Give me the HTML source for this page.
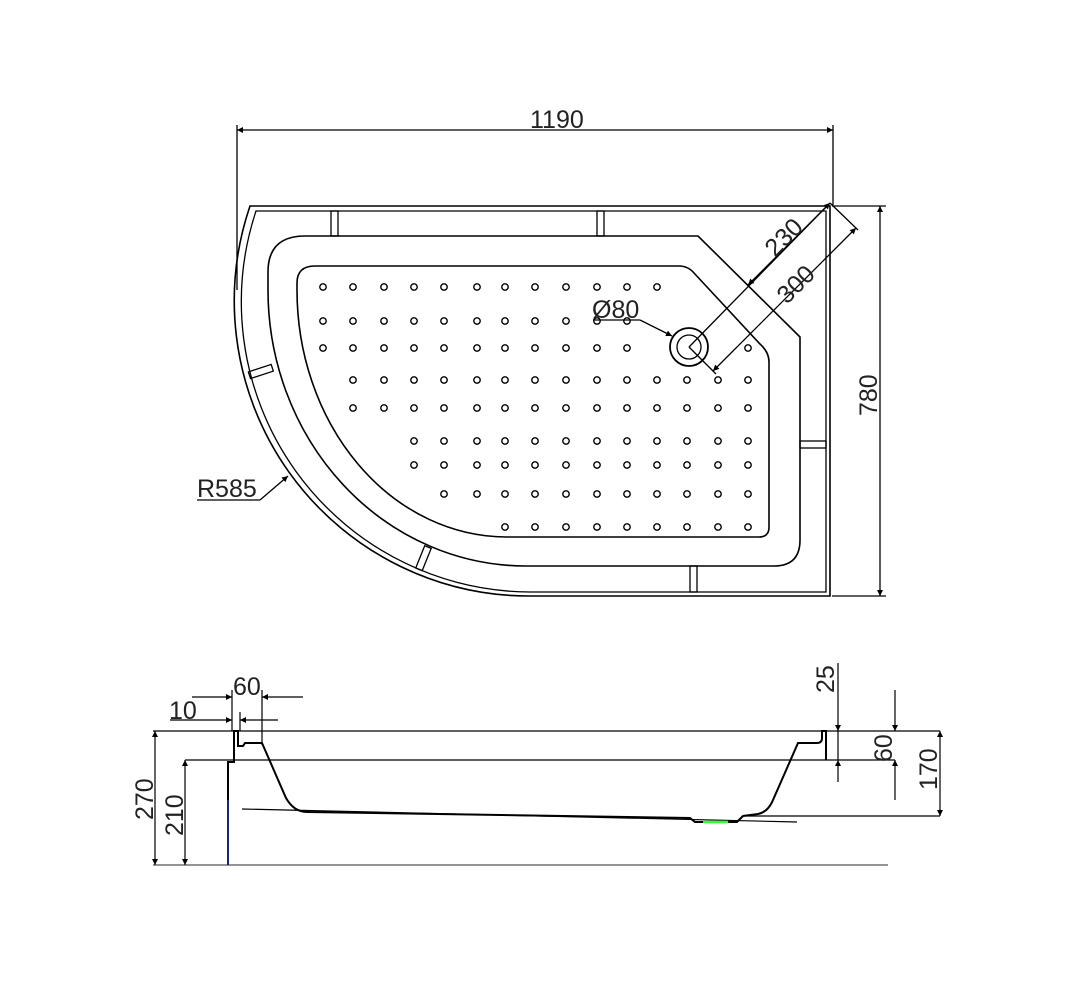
<!DOCTYPE html>
<html><head><meta charset="utf-8"><style>
html,body{margin:0;padding:0;background:#fff;}
svg{display:block}
text{font-family:"Liberation Sans Narrow","Liberation Sans",sans-serif;font-size:25px;fill:#222;font-weight:normal}
</style></head><body>
<svg width="1077" height="992" viewBox="0 0 1077 992" xmlns="http://www.w3.org/2000/svg">
<defs>
<marker id="a" viewBox="0 0 10 10" refX="10" refY="5" markerWidth="18" markerHeight="6" markerUnits="userSpaceOnUse" orient="auto-start-reverse"><path d="M0,0 L10,5 L0,10 z" fill="#000"/></marker>
<circle id="d" r="3.2" fill="none" stroke="#000" stroke-width="1.4"/>
</defs>
<g fill="none" stroke="#000" stroke-width="1.3">
<line x1="237" y1="125" x2="237" y2="290"/>
<line x1="833" y1="125" x2="833" y2="205"/>
<line x1="237" y1="130" x2="833" y2="130" marker-start="url(#a)" marker-end="url(#a)"/>
<line x1="832" y1="206" x2="886" y2="206"/>
<line x1="832" y1="596" x2="886" y2="596"/>
<line x1="880" y1="206" x2="880" y2="596" marker-start="url(#a)" marker-end="url(#a)"/>
<path d="M250 206 L830 206 L830 596 L530 596 A295 295 0 0 1 250 206 Z" stroke-width="1.6"/>
<path d="M256 211 L826 211 L826 592 L530 592 A290 290 0 0 1 256 211 Z"/>
<path d="M305 236 L698 236 L800 337 L800 540 Q800 566 774 566 L525 566 A258 276 0 0 1 268 290 L268 272 Q268 236 305 236 Z" stroke-width="1.6"/>
<path d="M315 266 L679 266 Q688 266 694 273 L760 344 Q769 352 769 362 L769 527 Q769 537 759 537 L506 537 A210 247 0 0 1 297 290 L297 283 Q297 266 315 266 Z" stroke-width="1.6"/>
<rect x="331" y="211" width="7" height="25"/>
<rect x="597" y="211" width="7" height="25"/>
<rect x="800" y="441" width="26" height="7"/>
<rect x="690" y="566" width="7" height="26"/>
<rect x="249" y="368" width="24" height="7" transform="rotate(-18 261 372)"/>
<rect x="411" y="555" width="24" height="7" transform="rotate(-68 423 558)"/>
<circle cx="689" cy="347" r="19" stroke-width="1.8"/>
<circle cx="689" cy="347" r="12"/>
<line x1="830" y1="203" x2="689" y2="347"/>
<line x1="830" y1="203" x2="858" y2="230"/>
<line x1="689" y1="347" x2="716" y2="374"/>
<line x1="748" y1="285" x2="830" y2="203" marker-end="url(#a)"/>
<line x1="748" y1="285" x2="771" y2="263" marker-start="url(#a)"/>
<line x1="856" y1="228" x2="713" y2="371" marker-start="url(#a)" marker-end="url(#a)"/>
<polyline points="593,320 640,320"/>
<line x1="640" y1="320" x2="672" y2="336" marker-end="url(#a)"/>
<polyline points="197,500 260,500"/>
<line x1="260" y1="500" x2="288" y2="476" marker-end="url(#a)"/>
</g>
<g>
<use href="#d" x="323" y="287"/><use href="#d" x="353" y="287"/><use href="#d" x="384" y="287"/><use href="#d" x="414" y="287"/><use href="#d" x="444" y="287"/><use href="#d" x="477" y="287"/><use href="#d" x="505" y="287"/><use href="#d" x="535" y="287"/><use href="#d" x="566" y="287"/><use href="#d" x="597" y="287"/><use href="#d" x="627" y="287"/><use href="#d" x="657" y="287"/>
<use href="#d" x="323" y="321"/><use href="#d" x="353" y="321"/><use href="#d" x="384" y="321"/><use href="#d" x="414" y="321"/><use href="#d" x="444" y="321"/><use href="#d" x="477" y="321"/><use href="#d" x="505" y="321"/><use href="#d" x="535" y="321"/><use href="#d" x="566" y="321"/><use href="#d" x="597" y="321"/><use href="#d" x="627" y="321"/>
<use href="#d" x="323" y="348"/><use href="#d" x="353" y="348"/><use href="#d" x="384" y="348"/><use href="#d" x="414" y="348"/><use href="#d" x="444" y="348"/><use href="#d" x="477" y="348"/><use href="#d" x="505" y="348"/><use href="#d" x="535" y="348"/><use href="#d" x="566" y="348"/><use href="#d" x="597" y="348"/><use href="#d" x="627" y="348"/><use href="#d" x="748" y="348"/>
<use href="#d" x="353" y="380"/><use href="#d" x="384" y="380"/><use href="#d" x="414" y="380"/><use href="#d" x="444" y="380"/><use href="#d" x="477" y="380"/><use href="#d" x="505" y="380"/><use href="#d" x="535" y="380"/><use href="#d" x="566" y="380"/><use href="#d" x="597" y="380"/><use href="#d" x="627" y="380"/><use href="#d" x="657" y="380"/><use href="#d" x="687" y="380"/><use href="#d" x="718" y="380"/><use href="#d" x="748" y="380"/>
<use href="#d" x="353" y="408"/><use href="#d" x="384" y="408"/><use href="#d" x="414" y="408"/><use href="#d" x="444" y="408"/><use href="#d" x="477" y="408"/><use href="#d" x="505" y="408"/><use href="#d" x="535" y="408"/><use href="#d" x="566" y="408"/><use href="#d" x="597" y="408"/><use href="#d" x="627" y="408"/><use href="#d" x="657" y="408"/><use href="#d" x="687" y="408"/><use href="#d" x="718" y="408"/><use href="#d" x="748" y="408"/>
<use href="#d" x="414" y="441"/><use href="#d" x="444" y="441"/><use href="#d" x="477" y="441"/><use href="#d" x="505" y="441"/><use href="#d" x="535" y="441"/><use href="#d" x="566" y="441"/><use href="#d" x="597" y="441"/><use href="#d" x="627" y="441"/><use href="#d" x="657" y="441"/><use href="#d" x="687" y="441"/><use href="#d" x="718" y="441"/><use href="#d" x="748" y="441"/>
<use href="#d" x="414" y="465"/><use href="#d" x="444" y="465"/><use href="#d" x="477" y="465"/><use href="#d" x="505" y="465"/><use href="#d" x="535" y="465"/><use href="#d" x="566" y="465"/><use href="#d" x="597" y="465"/><use href="#d" x="627" y="465"/><use href="#d" x="657" y="465"/><use href="#d" x="687" y="465"/><use href="#d" x="718" y="465"/><use href="#d" x="748" y="465"/>
<use href="#d" x="444" y="494"/><use href="#d" x="477" y="494"/><use href="#d" x="505" y="494"/><use href="#d" x="535" y="494"/><use href="#d" x="566" y="494"/><use href="#d" x="597" y="494"/><use href="#d" x="627" y="494"/><use href="#d" x="657" y="494"/><use href="#d" x="687" y="494"/><use href="#d" x="718" y="494"/><use href="#d" x="748" y="494"/>
<use href="#d" x="505" y="527"/><use href="#d" x="535" y="527"/><use href="#d" x="566" y="527"/><use href="#d" x="597" y="527"/><use href="#d" x="627" y="527"/><use href="#d" x="657" y="527"/><use href="#d" x="687" y="527"/><use href="#d" x="718" y="527"/><use href="#d" x="748" y="527"/>
</g>
<text x="530" y="128">1190</text>
<text transform="translate(877,416) rotate(-90)">780</text>
<text transform="translate(775,258) rotate(-45)">230</text>
<text transform="translate(787,305) rotate(-45)">300</text>
<text x="592" y="318">Ø80</text>
<text x="197" y="497">R585</text>

<g fill="none" stroke="#000" stroke-width="1.2">
<line x1="153" y1="731" x2="940" y2="731"/>
<line x1="185" y1="760" x2="895" y2="760"/>
<line x1="153" y1="865" x2="888" y2="865" stroke="#555"/>
<line x1="242" y1="809" x2="797" y2="822"/>
<line x1="745" y1="816" x2="940" y2="816"/>
<path d="M228 865 L228 762 L234 762 L234 731 L238 731 L238 746 L243 746 L245 743 L262 743 L286 798 Q294 812 307 812 L690 818 L695 822 L737 822 L743 816 L758 814 Q768 812 773 800 L798 743 L817 743 Q822 743 822 738 L822 731 L826 731 L826 760" stroke-width="2"/>
<line x1="228" y1="800" x2="228" y2="865" stroke="#1a237e" stroke-width="2"/>
<line x1="703" y1="822" x2="728" y2="822" stroke="#3f3" stroke-width="2.5"/>
<line x1="232" y1="690" x2="232" y2="731"/>
<line x1="262" y1="690" x2="262" y2="745"/>
<line x1="240" y1="712" x2="240" y2="731"/>
<line x1="192" y1="697" x2="232" y2="697" marker-end="url(#a)"/>
<line x1="262" y1="697" x2="303" y2="697" marker-start="url(#a)"/>
<line x1="170" y1="720" x2="232" y2="720" marker-end="url(#a)"/>
<line x1="240" y1="720" x2="278" y2="720" marker-start="url(#a)"/>
<line x1="155" y1="731" x2="155" y2="865" marker-start="url(#a)" marker-end="url(#a)"/>
<line x1="185" y1="760" x2="185" y2="865" marker-start="url(#a)" marker-end="url(#a)"/>
<line x1="838" y1="663" x2="838" y2="731" marker-end="url(#a)"/>
<line x1="838" y1="760" x2="838" y2="782" marker-start="url(#a)"/>
<line x1="838" y1="731" x2="838" y2="760"/>
<line x1="895" y1="690" x2="895" y2="731" marker-end="url(#a)"/>
<line x1="895" y1="760" x2="895" y2="800" marker-start="url(#a)"/>
<line x1="940" y1="731" x2="940" y2="816" marker-start="url(#a)" marker-end="url(#a)"/>
</g>
<text x="233" y="695">60</text>
<text x="169" y="719">10</text>
<text transform="translate(153,820) rotate(-90)">270</text>
<text transform="translate(183,836) rotate(-90)">210</text>
<text transform="translate(834,693) rotate(-90)">25</text>
<text transform="translate(892,762) rotate(-90)">60</text>
<text transform="translate(937,790) rotate(-90)">170</text>
</svg>
</body></html>
